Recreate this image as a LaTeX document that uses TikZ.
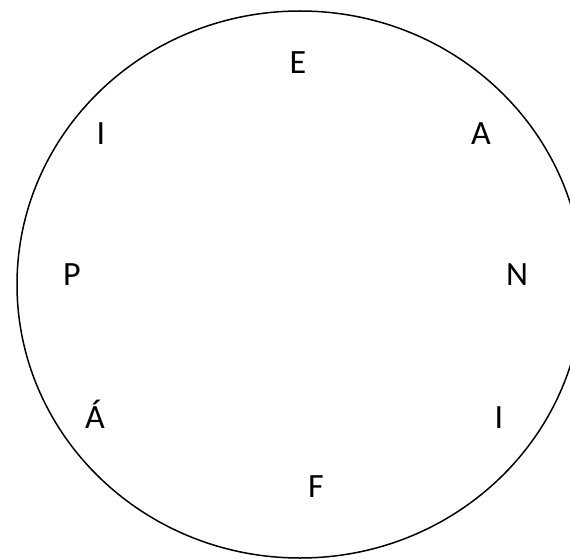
\documentclass[tikz,border=0pt]{standalone}
\usepackage{fontspec}
\usetikzlibrary{shapes.geometric}
\setmainfont{Carlito}
\begin{document}
\begin{tikzpicture}[x=1pt,y=-1pt,
  letter/.style={anchor=base,inner sep=0pt,font=\fontsize{34}{40}\selectfont},
  ring/.style={draw=black,line width=1.5pt}]
\useasboundingbox (0,0) rectangle (570,559);
\begin{scope}
\clip (0,0) rectangle (570,559);
\node[ring,ellipse,minimum width=566pt,minimum height=547pt,inner sep=0pt] (circ) at (300,284.5) {};
\end{scope}
\node[letter] (e) at (298,73.5) {E};
\node[letter] (il) at (101,144) {I};
\node[letter] (a) at (481,144) {A};
\node[letter] (p) at (72,285) {P};
\node[letter] (n) at (517,285) {N};
\node[letter] (aa) at (95,428) {Á};
\node[letter] (ir) at (499,428) {I};
\node[letter] (f) at (316,497.5) {F};
\end{tikzpicture}
\end{document}
